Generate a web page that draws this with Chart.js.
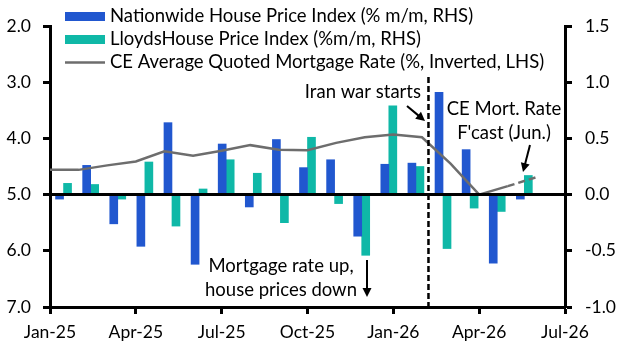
<!DOCTYPE html>
<html>
<head>
<meta charset="utf-8">
<script src="https://cdn.jsdelivr.net/npm/chart.js@4"></script>
<style>
  html, body { margin: 0; padding: 0; background: #fff; }
</style>
</head>
<body>
<canvas id="chart" width="627" height="354"></canvas>
<script>
// ------------------------------
// Data
// ------------------------------

// bar categories (last one left empty, as in the original)
const barLabels = ["Jan-25", "Feb-25", "Mar-25", "Apr-25", "May-25", "Jun-25", "Jul-25", "Aug-25", "Sep-25",
                   "Oct-25", "Nov-25", "Dec-25", "Jan-26", "Feb-26", "Mar-26", "Apr-26", "May-26", "Jun-26", "Jul-26"];

// % m/m, right axis
const nationwide = [-0.04, 0.26, -0.26, -0.46, 0.64, -0.62, 0.45, -0.11, 0.49,
                    0.24, 0.31, -0.37, 0.27, 0.28, 0.91, 0.40, -0.61, -0.04];
const lloyds = [0.10, 0.09, -0.04, 0.29, -0.28, 0.05, 0.31, 0.19, -0.25,
                0.51, -0.08, -0.54, 0.79, 0.25, -0.48, -0.12, -0.15, 0.17];

// %, left axis (inverted), monthly from Jan-25; last point is the June forecast
const mortgageRate = [4.56, 4.56, 4.48, 4.41, 4.23, 4.31, 4.22, 4.12, 4.20,
                      4.21, 4.08, 3.98, 3.93, 3.98, 4.45, 5.00, 4.85, 4.69];
const forecastFrom = 16;

const xTickLabels = ["Jan-25", "Apr-25", "Jul-25", "Oct-25", "Jan-26", "Apr-26", "Jul-26"];

const BLUE = "#2157cf";
const TEAL = "#0fb8a7";
const GREY = "#6d6d6d";
const FONT = "Lato";
const TEXT_FONT = "18.5px " + FONT;

Chart.defaults.font.family = FONT;
Chart.defaults.font.size = 17.5;
Chart.defaults.color = "#000";

// ------------------------------
// Helpers
// ------------------------------

function arrow(ctx, x1, y1, x2, y2) {
    const a = Math.atan2(y2 - y1, x2 - x1);
    const len = 9, w = 4.5;
    ctx.beginPath();
    ctx.moveTo(x1, y1);
    ctx.lineTo(x2 - Math.cos(a) * len * 0.8, y2 - Math.sin(a) * len * 0.8);
    ctx.stroke();
    ctx.beginPath();
    ctx.moveTo(x2, y2);
    ctx.lineTo(x2 - Math.cos(a) * len - Math.sin(a) * w, y2 - Math.sin(a) * len + Math.cos(a) * w);
    ctx.lineTo(x2 - Math.cos(a) * len + Math.sin(a) * w, y2 - Math.sin(a) * len - Math.cos(a) * w);
    ctx.closePath();
    ctx.fill();
}

// ------------------------------
// Overlay: zero line, marker, legend, notes
// ------------------------------

const overlay = {
    id: "overlay",
    afterDatasetsDraw(chart) {
        const { ctx, chartArea, scales } = chart;
        ctx.save();

        // zero line of the RHS
        const y0 = scales.y1.getPixelForValue(0);
        ctx.strokeStyle = "#000";
        ctx.lineWidth = 3;
        ctx.beginPath();
        ctx.moveTo(chartArea.left, y0);
        ctx.lineTo(chartArea.right, y0);
        ctx.stroke();

        // Iran war marker between Feb-26 and Mar-26
        const xb = scales.xBar;
        const xm = (xb.getPixelForValue(13) + xb.getPixelForValue(14)) / 2 - 1;
        ctx.lineWidth = 2.5;
        ctx.setLineDash([6, 3]);
        ctx.beginPath();
        ctx.moveTo(xm, 77);
        ctx.lineTo(xm, chartArea.bottom);
        ctx.stroke();
        ctx.restore();
    },
    afterDraw(chart) {
        const { ctx } = chart;
        ctx.save();
        ctx.font = TEXT_FONT;
        ctx.fillStyle = "#000";
        ctx.textBaseline = "middle";

        // legend
        ctx.fillStyle = BLUE;
        ctx.fillRect(65, 12, 40, 9);
        ctx.fillStyle = TEAL;
        ctx.fillRect(65, 35, 40, 9);
        ctx.strokeStyle = GREY;
        ctx.lineWidth = 2.5;
        ctx.beginPath();
        ctx.moveTo(65, 62.5);
        ctx.lineTo(105, 62.5);
        ctx.stroke();

        ctx.fillStyle = "#000";
        ctx.textAlign = "left";
        ctx.fillText("Nationwide House Price Index (% m/m, RHS)", 110, 16);
        ctx.fillText("LloydsHouse Price Index (%m/m, RHS)", 110, 39);
        ctx.fillText("CE Average Quoted Mortgage Rate (%, Inverted, LHS)", 110, 62);

        // notes
        ctx.textAlign = "right";
        ctx.fillText("Iran war starts", 421, 92);

        ctx.textAlign = "center";
        ctx.fillText("CE Mort. Rate", 504, 109);
        ctx.fillText("F'cast (Jun.)", 504, 133);
        ctx.fillText("Mortgage rate up,", 281, 266);
        ctx.fillText("house prices down", 281, 290);

        ctx.strokeStyle = "#000";
        ctx.lineWidth = 2;
        arrow(ctx, 407, 106, 425, 121);
        arrow(ctx, 530, 145, 523, 172);
        arrow(ctx, 367, 260, 367, 297);

        ctx.restore();
    }
};

// ------------------------------
// Chart
// ------------------------------

const axisGrid = {
    drawOnChartArea: false,
    drawTicks: true,
    tickLength: 7,
    tickColor: "#000",
    tickWidth: 3,
    offset: false
};
const axisBorder = { display: true, color: "#000", width: 3 };

const chart = new Chart(
    document.getElementById("chart"),
    {
        type: "bar",
        data: {
            labels: barLabels,
            datasets: [
                {
                    type: "line",
                    label: "CE Average Quoted Mortgage Rate (%, Inverted, LHS)",
                    data: mortgageRate.map((v, i) => ({ x: i, y: v })),
                    xAxisID: "x",
                    yAxisID: "y",
                    borderColor: GREY,
                    borderWidth: 2.5,
                    pointRadius: 0,
                    tension: 0,
                    segment: {
                        borderDash: c => c.p0DataIndex >= forecastFrom ? [7, 4] : undefined
                    },
                    order: 0
                },
                {
                    label: "Nationwide House Price Index (% m/m, RHS)",
                    data: nationwide,
                    xAxisID: "xBar",
                    yAxisID: "y1",
                    backgroundColor: BLUE,
                    borderWidth: 0,
                    barThickness: 8,
                    order: 1
                },
                {
                    label: "LloydsHouse Price Index (%m/m, RHS)",
                    data: lloyds,
                    xAxisID: "xBar",
                    yAxisID: "y1",
                    backgroundColor: TEAL,
                    borderWidth: 0,
                    barThickness: 8,
                    order: 1
                }
            ]
        },
        options: {
            responsive: false,
            animation: false,
            devicePixelRatio: 1,
            layout: { padding: { top: 26, left: 0, right: 0, bottom: 0 } },
            plugins: {
                legend: { display: false },
                tooltip: { enabled: false }
            },
            scales: {
                x: {
                    type: "linear",
                    position: "bottom",
                    min: 0,
                    max: 18,
                    offset: false,
                    ticks: {
                        stepSize: 3,
                        autoSkip: false,
                        maxRotation: 0,
                        padding: 8,
                        callback: v => xTickLabels[v / 3] ?? ""
                    },
                    grid: axisGrid,
                    border: axisBorder,
                    afterFit: s => { s.height = 47; }
                },
                xBar: {
                    type: "category",
                    display: false,
                    offset: true,
                    grid: { offset: true }
                },
                y: {
                    position: "left",
                    reverse: true,
                    min: 2,
                    max: 7,
                    beginAtZero: false,
                    ticks: { stepSize: 1, padding: 12, callback: v => v.toFixed(1) },
                    grid: axisGrid,
                    border: axisBorder,
                    afterFit: s => { s.width = 50; }
                },
                y1: {
                    position: "right",
                    min: -1,
                    max: 1.5,
                    beginAtZero: false,
                    ticks: { stepSize: 0.5, padding: 13, callback: v => v.toFixed(1) },
                    grid: axisGrid,
                    border: axisBorder,
                    afterFit: s => { s.width = 62; }
                }
            }
        },
        plugins: [overlay]
    }
);
</script>
</body>
</html>
